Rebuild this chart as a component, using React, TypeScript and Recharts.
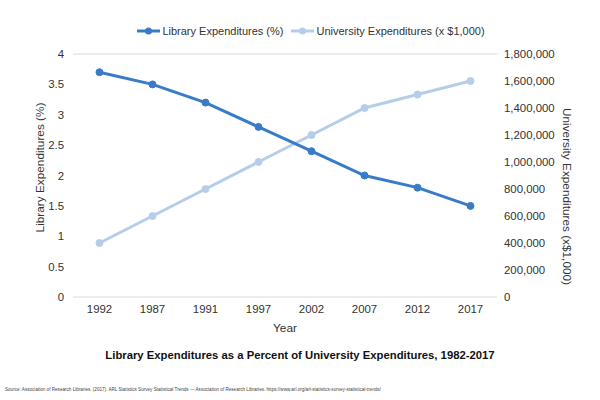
import React from 'react';
import {
  LineChart,
  Line,
  XAxis,
  YAxis,
  CartesianGrid,
  Legend,
} from 'recharts';

const years = ['1992', '1987', '1991', '1997', '2002', '2007', '2012', '2017'];
const libraryPct = [3.7, 3.5, 3.2, 2.8, 2.4, 2.0, 1.8, 1.5];
const universityExp = [400000, 600000, 800000, 1000000, 1200000, 1400000, 1500000, 1600000];

const leftTicks = [0, 0.5, 1, 1.5, 2, 2.5, 3, 3.5, 4];
const rightTicks = [0, 200000, 400000, 600000, 800000, 1000000, 1200000, 1400000, 1600000, 1800000];

const LIB_COLOR = '#3a7bc8';
const UNI_COLOR = '#b6cdea';
const FONT = '"Liberation Sans", Arial, sans-serif';

const legendItems = [
  { name: 'Library Expenditures (%)', color: LIB_COLOR },
  { name: 'University Expenditures (x $1,000)', color: UNI_COLOR },
];

const withCommas = (v: number) => String(v).replace(/\B(?=(\d{3})+(?!\d))/g, ',');

// 凡例はライブラリの順番に関係なく固定で並べる
const LegendContent = () => (
  <div
    style={{
      display: 'flex',
      justifyContent: 'center',
      fontFamily: FONT,
      fontSize: 11,
      color: '#333',
      whiteSpace: 'nowrap',
    }}
  >
    {legendItems.map((item, i) => (
      <div key={item.name} style={{ display: 'flex', alignItems: 'center', marginRight: i === 0 ? 8 : 0 }}>
        <svg width={23} height={10} style={{ marginRight: 2 }}>
          <line x1={0} y1={5} x2={23} y2={5} stroke={item.color} strokeWidth={3} />
          <circle cx={11.5} cy={5} r={3.5} fill={item.color} />
        </svg>
        <span>{item.name}</span>
      </div>
    ))}
  </div>
);

const App: React.FC = () => {
  const data = years.map((year, i) => ({
    year,
    library: libraryPct[i],
    university: universityExp[i],
  }));

  const tickStyle = { fontFamily: FONT, fontSize: 11.4, fill: '#333' };
  const labelStyle = { fontFamily: FONT, fontSize: 11.8, fill: '#333' };

  return (
    <div style={{ position: 'absolute', left: 0, top: 0, width: 600, height: 400, background: '#fff' }}>
      <LineChart width={600} height={400} data={data} margin={{ top: 54, right: 0, bottom: 63, left: 0 }}>
        <CartesianGrid vertical={false} stroke="#d9d9d9" />
        <XAxis
          dataKey="year"
          axisLine={false}
          tickLine={false}
          height={40}
          padding={{ left: 26.5, right: 26.5 }}
          tick={tickStyle}
          label={{ value: 'Year', position: 'insideBottom', offset: 5, style: labelStyle }}
        />
        <YAxis
          yAxisId="left"
          width={73}
          domain={[0, 4]}
          ticks={leftTicks}
          axisLine={false}
          tickLine={false}
          tickMargin={3}
          tick={tickStyle}
          label={{
            value: 'Library Expenditures (%)',
            angle: -90,
            position: 'insideLeft',
            offset: 40,
            dy: -8,
            style: { ...labelStyle, textAnchor: 'middle' },
          }}
        />
        <YAxis
          yAxisId="right"
          orientation="right"
          width={103}
          domain={[0, 1800000]}
          ticks={rightTicks}
          axisLine={false}
          tickLine={false}
          tickMargin={1}
          tick={tickStyle}
          tickFormatter={withCommas}
          label={{
            value: 'University Expenditures (x$1,000)',
            angle: 90,
            position: 'insideRight',
            offset: 33,
            dy: 21,
            style: { ...labelStyle, textAnchor: 'middle' },
          }}
        />
        <Legend
          layout="horizontal"
          verticalAlign="middle"
          align="center"
          content={<LegendContent />}
          wrapperStyle={{ top: 25, left: 11, width: 600 }}
        />
        <Line
          yAxisId="right"
          dataKey="university"
          name="University Expenditures (x $1,000)"
          stroke={UNI_COLOR}
          strokeWidth={3}
          dot={{ r: 3.5, fill: UNI_COLOR, stroke: UNI_COLOR, strokeWidth: 1 }}
          isAnimationActive={false}
        />
        <Line
          yAxisId="left"
          dataKey="library"
          name="Library Expenditures (%)"
          stroke={LIB_COLOR}
          strokeWidth={3}
          dot={{ r: 3.5, fill: LIB_COLOR, stroke: LIB_COLOR, strokeWidth: 1 }}
          isAnimationActive={false}
        />
      </LineChart>
      <div
        style={{
          position: 'absolute',
          top: 349,
          left: 0,
          width: 600,
          textAlign: 'center',
          fontFamily: FONT,
          fontSize: 11.3,
          fontWeight: 'bold',
          color: '#111',
        }}
      >
        Library Expenditures as a Percent of University Expenditures, 1982-2017
      </div>
      <div
        style={{
          position: 'absolute',
          top: 387,
          left: 5,
          fontFamily: FONT,
          fontSize: 4.6,
          color: '#444',
          whiteSpace: 'nowrap',
        }}
      >
        Source: Association of Research Libraries. (2017). ARL Statistics Survey Statistical Trends — Association of Research Libraries. https://www.arl.org/arl-statistics-survey-statistical-trends/
      </div>
    </div>
  );
};

export default App;
